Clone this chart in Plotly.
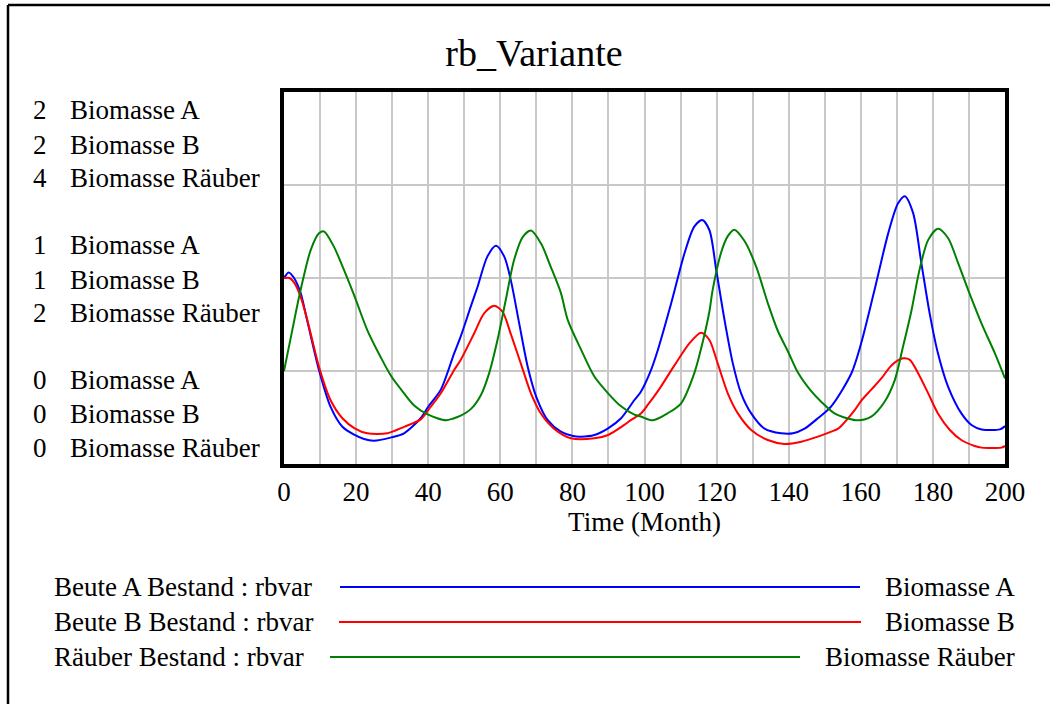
import plotly.graph_objects as go

# ---- simulation output (Time in months) ----
time_a = [0, 1.3, 2.8, 4.6, 6.4, 9.7, 12.9, 16.2, 19.6, 22.2, 24.9, 29.8, 33.3, 37.9, 40, 43.5,
          47.2, 49, 51.8, 53.7, 56.4, 58.8, 61.1, 62.9, 65.2, 67.6, 70.0, 73.1, 76.8, 80.2, 82.4,
          86.1, 89.9, 93.5, 97.2, 99.0, 101.8, 103.7, 107.4, 111.1, 113.8, 116.0, 118.0, 119.9,
          122.2, 124.5, 126.8, 129.6, 133.3, 137.9, 141.2, 144.4, 148.1, 151.8, 157.4, 160.1,
          163.8, 167.6, 170.3, 172.2, 174.5, 176.8, 179.1, 181.4, 184.2, 187.9, 190.7, 193.5,
          198.6, 200]
biomasse_a = [1.0, 1.03, 1.0, 0.92, 0.774, 0.505, 0.308, 0.2, 0.156, 0.134, 0.125, 0.143, 0.165,
              0.246, 0.308, 0.40, 0.595, 0.685, 0.846, 0.953, 1.115, 1.174, 1.115, 0.99, 0.76,
              0.523, 0.36, 0.237, 0.174, 0.15, 0.147, 0.156, 0.192, 0.246, 0.344, 0.389, 0.505,
              0.613, 0.864, 1.133, 1.276, 1.312, 1.258, 1.043, 0.774, 0.541, 0.38, 0.272, 0.19,
              0.165, 0.165, 0.19, 0.246, 0.31, 0.488, 0.649, 0.935, 1.24, 1.40, 1.44, 1.35, 1.08,
              0.81, 0.595, 0.416, 0.272, 0.21, 0.186, 0.186, 0.204]

time_b = [0, 1.5, 3.0, 4.6, 6.4, 9.7, 12.9, 16.2, 19.6, 23.1, 28.7, 33.3, 37.9, 40, 43.5, 47.2,
          49, 52.7, 55.5, 58.3, 60.6, 62.9, 65.7, 68.5, 71.3, 74.9, 79.6, 86.1, 89.9, 94.4, 96.3,
          99.0, 101.0, 104.0, 108.3, 112.5, 115.7, 118.0, 120.3, 123.1, 125.9, 129.6, 134.2,
          138.8, 143.5, 148.1, 151.8, 153.7, 158.3, 160.1, 162.9, 165.7, 168.5, 171.7, 173.6,
          175.9, 178.7, 181.4, 184.7, 187.9, 191.6, 193.5, 199.0, 200]
biomasse_b = [1.0, 1.0, 0.97, 0.90, 0.78, 0.523, 0.344, 0.246, 0.192, 0.165, 0.165, 0.2, 0.24,
              0.29, 0.38, 0.505, 0.559, 0.70, 0.81, 0.851, 0.819, 0.70, 0.54, 0.38, 0.27, 0.19,
              0.138, 0.138, 0.156, 0.21, 0.237, 0.272, 0.32, 0.40, 0.53, 0.65, 0.706, 0.667,
              0.541, 0.38, 0.272, 0.183, 0.129, 0.108, 0.12, 0.147, 0.174, 0.19, 0.29, 0.34,
              0.40, 0.46, 0.53, 0.568, 0.56, 0.488, 0.38, 0.272, 0.183, 0.129, 0.097, 0.088,
              0.088, 0.097]

time_r = [0, 2.3, 4.6, 7.4, 9.7, 11.1, 13.8, 16.6, 19.6, 23.1, 26.8, 29.8, 33.3, 36.1, 40, 44.9,
          47.0, 49.0, 51.8, 54.6, 56.9, 59.2, 61.5, 63.8, 66.2, 68.5, 71.3, 74.0, 76.8, 78.7,
          82.4, 86.1, 89.9, 93.5, 97.2, 99.0, 102.3, 106.4, 110.1, 113.8, 116.2, 118.0, 118.9,
          121.3, 123.1, 124.9, 127.7, 131.0, 134.2, 137.0, 139.8, 142.6, 146.3, 149.0, 152.7,
          156.4, 159.2, 162.9, 166.6, 169.4, 171.7, 174.0, 176.3, 178.7, 181.4, 184.2, 187.0,
          189.8, 193.5, 197.2, 200]
biomasse_raeuber = [1.0, 1.44, 1.87, 2.3, 2.48, 2.5, 2.34, 2.09, 1.8, 1.44, 1.15, 0.94, 0.76,
                    0.63, 0.53, 0.47, 0.49, 0.52, 0.59, 0.74, 0.975, 1.33, 1.76, 2.19, 2.44, 2.51,
                    2.37, 2.12, 1.84, 1.55, 1.23, 0.94, 0.76, 0.62, 0.53, 0.51, 0.47, 0.545, 0.65,
                    0.975, 1.32, 1.64, 1.87, 2.28, 2.45, 2.52, 2.40, 2.12, 1.73, 1.43, 1.21, 0.98,
                    0.78, 0.67, 0.545, 0.49, 0.47, 0.51, 0.67, 0.90, 1.26, 1.64, 2.09, 2.41, 2.53,
                    2.43, 2.16, 1.87, 1.51, 1.19, 0.92]

series_labels = ["Beute A Bestand : rbvar", "Beute B Bestand : rbvar", "Räuber Bestand : rbvar"]
series_names = ["Biomasse A", "Biomasse B", "Biomasse Räuber"]
series_colors = ["#0000ff", "#ff0000", "#008000"]

x_ticks = list(range(0, 201, 20))
scale_top = ["2", "2", "4"]
scale_mid = ["1", "1", "2"]
scale_bottom = ["0", "0", "0"]

FONT = "Liberation Serif, Times New Roman, serif"
W, H = 1050, 704
L, R, T, B = 284, 1005, 92, 464


def fx(x):
    return (x - L) / (R - L)


def fy(y):
    return (B - y) / (B - T)


def curve(t, v, color, axis="y"):
    return go.Scatter(x=t, y=v, mode="lines", yaxis=axis,
                      line=dict(color=color, width=2, shape="spline", smoothing=0.8))


fig = go.Figure()
fig.add_trace(curve(time_a, biomasse_a, series_colors[0]))
fig.add_trace(curve(time_b, biomasse_b, series_colors[1]))
fig.add_trace(curve(time_r, biomasse_raeuber, series_colors[2], "y2"))
for tr, nm in zip(fig.data, series_names):
    tr.name = nm

grid = "#c8c8c8"
fig.update_layout(
    width=W, height=H,
    margin=dict(l=L, r=W - R, t=T, b=H - B, pad=0),
    paper_bgcolor="white", plot_bgcolor="white",
    showlegend=False,
    font=dict(family=FONT, size=27, color="black"),
    title=dict(text="rb_Variante", font=dict(family=FONT, size=38, color="black"),
               x=534 / W, xanchor="center", xref="container",
               y=1 - 53 / H, yanchor="middle", yref="container"),
    xaxis=dict(range=[0, 200], tickvals=x_ticks, ticks="", showgrid=True, gridcolor=grid,
               gridwidth=1.5, minor=dict(dtick=10, showgrid=True, gridcolor=grid, gridwidth=1.5),
               showline=True, linecolor="black", linewidth=4, mirror=True, zeroline=False,
               ticklabelstandoff=1,
               title=dict(text="Time (Month)", standoff=2, font=dict(family=FONT, size=27))),
    yaxis=dict(range=[0, 2], dtick=0.5, showticklabels=False, ticks="", showgrid=True,
               gridcolor=grid, gridwidth=1.5, showline=True, linecolor="black", linewidth=4,
               mirror=True, zeroline=False),
    yaxis2=dict(range=[0, 4], overlaying="y", side="right", showgrid=False, showticklabels=False,
                ticks="", showline=False, zeroline=False),
)

# outer frame of the panel
fig.add_shape(type="line", xref="paper", yref="paper", x0=fx(8), x1=fx(1052), y0=fy(5), y1=fy(5),
              line=dict(color="black", width=2.5))
fig.add_shape(type="line", xref="paper", yref="paper", x0=fx(8), x1=fx(8), y0=fy(5), y1=fy(706),
              line=dict(color="black", width=2.5))

# scale labels left of the plot
groups = [(scale_top, [110, 145, 178]), (scale_mid, [245, 280, 313]), (scale_bottom, [380, 414, 448])]
for values, ys in groups:
    for val, name, yy in zip(values, series_names, ys):
        fig.add_annotation(xref="paper", yref="paper", x=fx(31), y=fy(yy), text=val,
                           showarrow=False, xanchor="left", yanchor="middle")
        fig.add_annotation(xref="paper", yref="paper", x=fx(68), y=fy(yy), text=name,
                           showarrow=False, xanchor="left", yanchor="middle")

# key below the plot
key_rows = [587, 622, 657]
key_lines = [(340, 860), (339, 861), (330, 800)]
for lab, name, col, yy, (xa, xb) in zip(series_labels, series_names, series_colors, key_rows, key_lines):
    fig.add_annotation(xref="paper", yref="paper", x=fx(52), y=fy(yy), text=lab,
                       showarrow=False, xanchor="left", yanchor="middle")
    fig.add_annotation(xref="paper", yref="paper", x=fx(1017), y=fy(yy), text=name,
                       showarrow=False, xanchor="right", yanchor="middle")
    fig.add_shape(type="line", xref="paper", yref="paper", x0=fx(xa), x1=fx(xb),
                  y0=fy(yy), y1=fy(yy), line=dict(color=col, width=2))

fig.write_html("out.html")
